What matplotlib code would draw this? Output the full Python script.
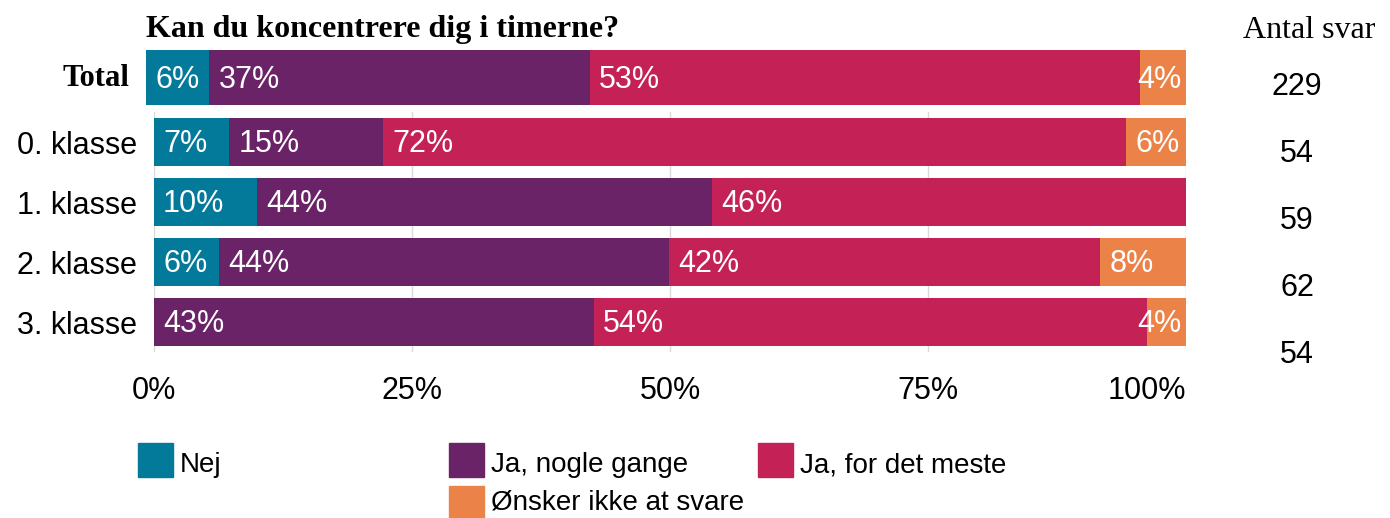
import matplotlib.pyplot as plt
from matplotlib.patches import Rectangle

# Data
categories = ['0. klasse', '1. klasse', '2. klasse', '3. klasse']
series_names = ['Nej', 'Ja, nogle gange', 'Ja, for det meste', 'Ønsker ikke at svare']
colors = ['#037A9A', '#6B2367', '#C42157', '#EB8348']

total_values = [6.1, 36.6, 52.9, 4.4]
nej = [7.3, 10.0, 6.3, 0.0]
nogle_gange = [14.9, 44.1, 43.6, 42.6]
det_meste = [72.0, 45.9, 41.8, 53.6]
oensker_ikke = [5.8, 0.0, 8.3, 3.8]
series = [nej, nogle_gange, det_meste, oensker_ikke]

total_count = 229
counts = [54, 59, 62, 54]
ticks = [0, 25, 50, 75, 100]
tick_labels = ['0%', '25%', '50%', '75%', '100%']

W, H = 1390, 518
fig = plt.figure(figsize=(W / 100, H / 100), dpi=100)
fig.patch.set_facecolor('white')

SANS = 'Liberation Sans'
SERIF = 'Liberation Serif'


def fx(px):
    return px / W


def fy(py):
    return 1 - py / H


def label_segments(ax, y, lefts, widths):
    for left, w in zip(lefts, widths):
        if w <= 0:
            continue
        txt = f'{int(w + 0.5)}%'
        if w >= 5:
            ax.annotate(txt, (left, y), xytext=(6.5, -1.5), textcoords='offset points',
                        ha='left', va='center', color='white', fontsize=22, family=SANS)
        else:
            ax.annotate(txt, (left + w, y), xytext=(-3, -1.5), textcoords='offset points',
                        ha='right', va='center', color='white', fontsize=22, family=SANS)


# main axes (the four classes)
ax = fig.add_axes([fx(154), fy(352), fx(1186) - fx(154), (352 - 112) / H])
ypos = list(range(len(categories)))
left = [0.0] * len(categories)
for vals, col in zip(series, colors):
    ax.barh(ypos, vals, left=left, height=0.8, color=col, zorder=2)
    left = [l + v for l, v in zip(left, vals)]
for i in ypos:
    lefts = []
    acc = 0
    for vals in series:
        lefts.append(acc)
        acc += vals[i]
    label_segments(ax, i, lefts, [vals[i] for vals in series])

ax.set_xlim(0, 100)
ax.set_ylim(3.5, -0.5)
ax.set_xticks(ticks)
ax.set_xticklabels(tick_labels, fontsize=22, family=SANS)
ax.get_xticklabels()[-1].set_horizontalalignment('right')
ax.set_yticks(ypos)
ax.set_yticklabels(categories, fontsize=22, family=SANS)
ax.tick_params(axis='x', length=0, pad=17)
ax.tick_params(axis='y', length=0, pad=12)
ax.grid(axis='x', color='#D9D9D9', linewidth=1, zorder=0)
for s in ax.spines.values():
    s.set_visible(False)

# Total bar on its own axes
axt = fig.add_axes([fx(146), fy(105), fx(1186) - fx(146), 55 / H])
acc = 0
tot_lefts = []
for v, col in zip(total_values, colors):
    axt.barh(0, v, left=acc, height=1.0, color=col)
    tot_lefts.append(acc)
    acc += v
label_segments(axt, 0, tot_lefts, total_values)
axt.set_xlim(0, 100)
axt.set_ylim(-0.5, 0.5)
axt.axis('off')

fig.text(fx(129), fy(79), 'Total', ha='right', va='center', fontsize=22,
         fontweight='bold', family=SERIF)
fig.text(fx(146), fy(30), 'Kan du koncentrere dig i timerne?', ha='left', va='center',
         fontsize=23, fontweight='bold', family=SERIF)
fig.text(fx(1309), fy(30), 'Antal svar', ha='center', va='center', fontsize=23, family=SERIF)

# response counts
fig.text(fx(1297), fy(87), str(total_count), ha='center', va='center', fontsize=22, family=SANS)
for i, c in enumerate(counts):
    fig.text(fx(1297), fy(154 + 67 * i), str(c), ha='center', va='center',
             fontsize=22, family=SANS)

# legend drawn by hand: 3 columns, 4th item under the 2nd column
leg_x = [138, 449, 758, 449]
leg_y = [443, 443, 443, 486]
leg_text_y = [465, 465, 465, 503]
for name, col, lx, ly, ty in zip(series_names, colors, leg_x, leg_y, leg_text_y):
    fig.patches.append(Rectangle((fx(lx), fy(ly + 34)), 35 / W, 34 / H,
                                 transform=fig.transFigure, color=col))
    fig.text(fx(lx + 42), fy(ty), name, ha='left', va='center', fontsize=20, family=SANS)

fig.savefig('out.png', dpi=100, facecolor='white')
